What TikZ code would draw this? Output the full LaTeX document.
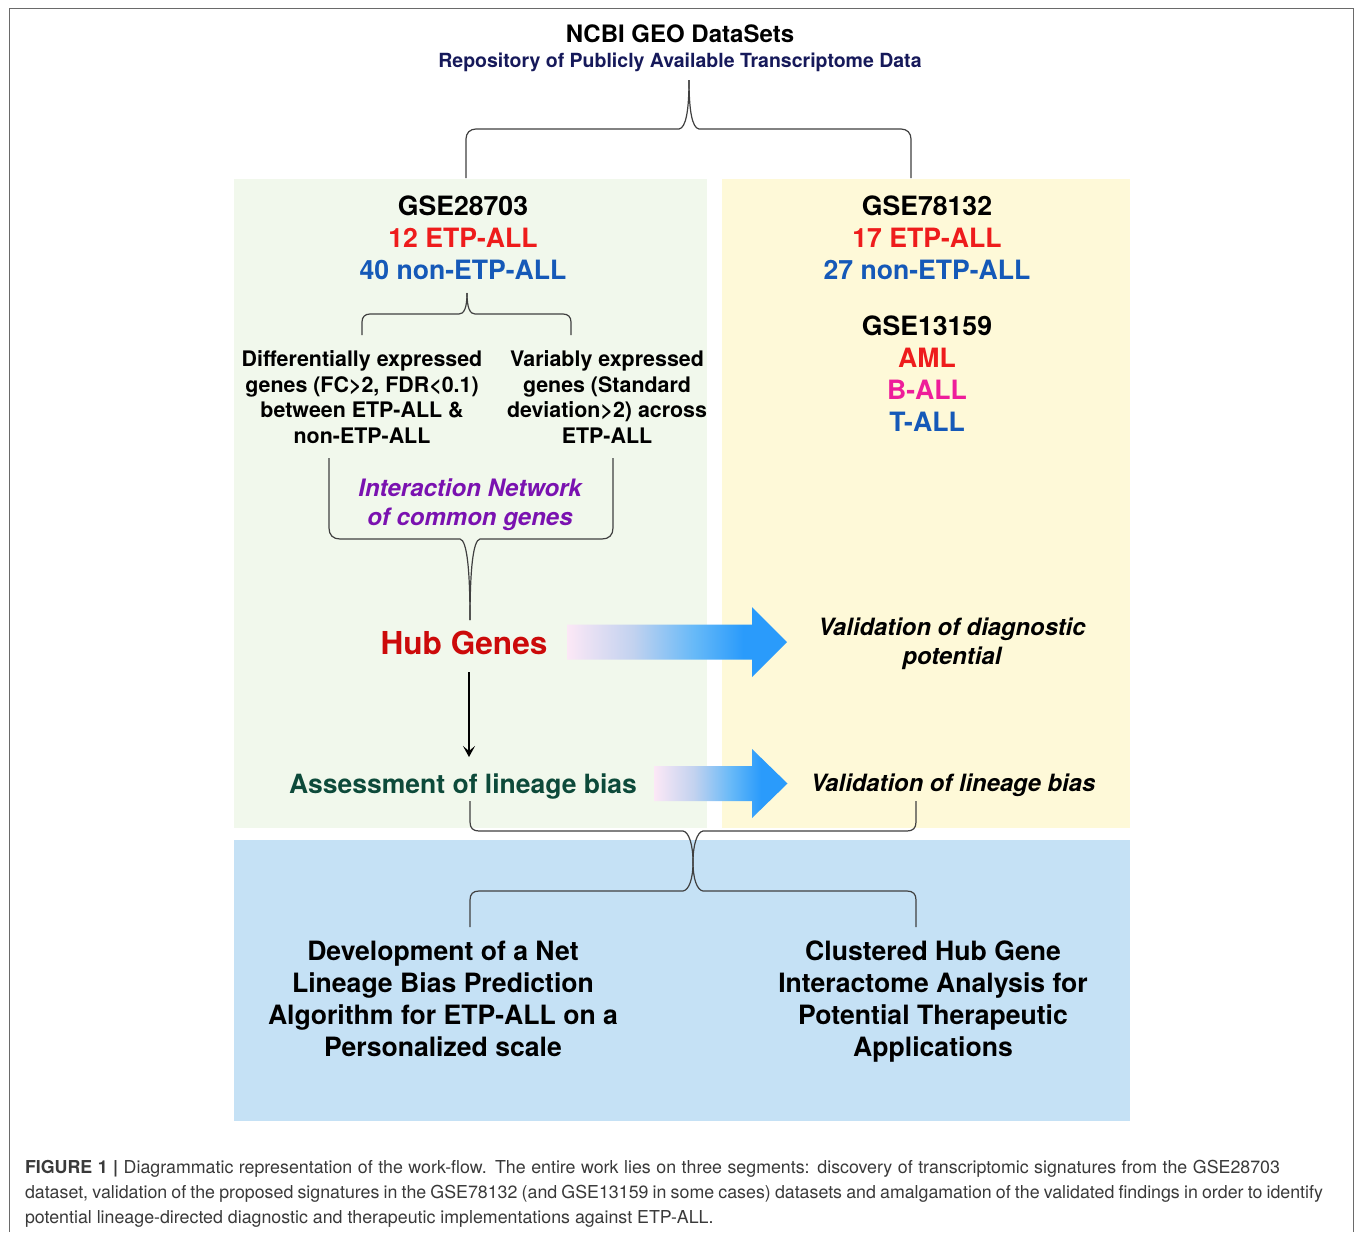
\documentclass[tikz,border=0pt]{standalone}
\usepackage{fontspec}
\setmainfont{TeX Gyre Heros}
\usetikzlibrary{arrows.meta}
\definecolor{panelgreen}{HTML}{F1F8EC}
\definecolor{panelyellow}{HTML}{FEF9D8}
\definecolor{panelblue}{HTML}{C5E1F5}
\definecolor{navy}{HTML}{16195A}
\definecolor{etpred}{HTML}{EE1C1C}
\definecolor{nonblue}{HTML}{1559B8}
\definecolor{bmag}{HTML}{EE1D9A}
\definecolor{intpurple}{HTML}{7A12B0}
\definecolor{hubred}{HTML}{CC0A0A}
\definecolor{lingreen}{HTML}{0D4A3A}
\definecolor{gpink}{HTML}{FCE8F6}
\definecolor{glav}{HTML}{C2D2EF}
\definecolor{glb}{HTML}{66B9F8}
\definecolor{gblue}{HTML}{2A9BFB}
\definecolor{framegray}{HTML}{6A6A6A}
\definecolor{capgray}{HTML}{3A3A3A}
\definecolor{bracegray}{HTML}{404040}
\pgfdeclarehorizontalshading{gradarrow}{100bp}{color(0bp)=(gpink); color(25bp)=(gpink); color(40bp)=(glav); color(54bp)=(glb); color(65bp)=(gblue); color(100bp)=(gblue)}
\begin{document}
\begin{tikzpicture}[x=1pt,y=-1pt,
  every node/.style={inner sep=0pt, outer sep=0pt},
  titlest/.style={font=\bfseries\fontsize{24}{28}\selectfont, anchor=base},
  repost/.style={font=\bfseries\fontsize{19.5}{23}\selectfont, text=navy, anchor=base},
  big/.style={font=\bfseries\fontsize{26.6}{32}\selectfont, anchor=base},
  sub/.style={font=\bfseries\fontsize{21.4}{25.7}\selectfont, align=center},
  inter/.style={font=\bfseries\itshape\fontsize{24}{29}\selectfont, text=intpurple, align=center},
  hubst/.style={font=\bfseries\fontsize{31.6}{36}\selectfont, text=hubred, anchor=base},
  assessst/.style={font=\bfseries\fontsize{26.5}{32}\selectfont, text=lingreen, anchor=base},
  valid/.style={font=\bfseries\itshape\fontsize{23.8}{29}\selectfont, align=center},
  bottomst/.style={font=\bfseries\fontsize{26.6}{32}\selectfont, align=center},
  capst/.style={font=\fontsize{17.8}{25}\selectfont, text=capgray, anchor=base west},
  brace/.style={draw=bracegray, line width=1.2pt},
  gradarrowst/.style={shading=gradarrow},
  hubarrow/.style={line width=2.3pt, -{Stealth[length=11pt,width=12pt,inset=5pt]}}
]
\useasboundingbox (0,0) rectangle (1355,1232);
\fill[white] (0,0) rectangle (1355,1232);
\draw[framegray, line width=1.5pt] (9.5,1232) -- (9.5,8.5) -- (1353.5,8.5) -- (1353.5,1232);

% panels
\fill[panelgreen] (234,179) rectangle (707,828);
\fill[panelyellow] (722,179) rectangle (1130,828);
\fill[panelblue] (234,840) rectangle (1130,1121);

% header
\node[titlest] (ncbi) at (680,42.6) {NCBI GEO DataSets};
\node[repost] (repo) at (680,67) {Repository of Publicly Available Transcriptome Data};

% top brace
\coordinate (tbT) at (689,80);
\coordinate (tbL) at (466,178);
\coordinate (tbR) at (911,178);
\draw[brace] (tbL) -- (466,139) .. controls (466,133) and (470,129) .. (476,129) -- (679,129) .. controls (686,128) and (689,110) .. (tbT);
\draw[brace] (tbT) .. controls (689,110) and (692,128) .. (699,129) -- (901,129) .. controls (907,129) and (911,133) .. (911,139) -- (tbR);

% left panel
\node[big] (gseA) at (463,215.5) {GSE28703};
\node[big, text=etpred] (etpA) at (463,247.5) {12 ETP-ALL};
\node[big, text=nonblue] (nonA) at (463,279.5) {40 non-ETP-ALL};

\coordinate (sbT) at (467,293);
\coordinate (sbL) at (362,335);
\coordinate (sbR) at (571,335);
\draw[brace] (sbL) -- (362,322) .. controls (362,317) and (365,314) .. (370,314) -- (459,314) .. controls (464,314) and (467,308) .. (sbT);
\draw[brace] (sbT) .. controls (467,308) and (470,314) .. (475,314) -- (563,314) .. controls (568,314) and (571,317) .. (571,322) -- (sbR);

\node[sub] (dex) at (362,397) {Differentially expressed\\genes (FC>2, FDR<0.1)\\between ETP-ALL \&\\non-ETP-ALL};
\node[sub] (vex) at (607,397) {Variably expressed\\genes (Standard\\deviation>2) across\\ETP-ALL};

\node[inter] (inet) at (470,505) {Interaction Network\\of common genes};

\coordinate (bbT) at (470,620);
\coordinate (bbL) at (329,458);
\coordinate (bbR) at (613,458);
\draw[brace] (bbL) -- (329,528) .. controls (329,535) and (333,539) .. (340,539) -- (460,539) .. controls (467,540) and (470,570) .. (bbT);
\draw[brace] (bbT) .. controls (470,570) and (473,540) .. (480,539) -- (602,539) .. controls (609,539) and (613,535) .. (613,528) -- (bbR);

\node[hubst] (hub) at (464,654.4) {Hub Genes};
\node[assessst] (assess) at (463,793.5) {Assessment of lineage bias};
\coordinate (hubout) at (469,672);
\coordinate (assessin) at (469,757);
\draw[hubarrow] (hubout) -- (assessin);

% gradient arrows
\shade[gradarrowst] (567,624.5) -- (752,624.5) -- (752,607) -- (787,642) -- (752,677) -- (752,659.5) -- (567,659.5) -- cycle;
\shade[gradarrowst] (654,766) -- (752,766) -- (752,749) -- (787.5,783.5) -- (752,818) -- (752,801) -- (654,801) -- cycle;

% right panel
\node[big] (gseB) at (927,215.5) {GSE78132};
\node[big, text=etpred] (etpB) at (927,247.5) {17 ETP-ALL};
\node[big, text=nonblue] (nonB) at (927,279.5) {27 non-ETP-ALL};
\node[big] (gseC) at (927,335.5) {GSE13159};
\node[big, text=etpred] (aml) at (927,367.5) {AML};
\node[big, text=bmag] (ball) at (927,399.5) {B-ALL};
\node[big, text=nonblue] (tall) at (927,431.5) {T-ALL};

\node[valid] (vdiag) at (952,644) {Validation of diagnostic\\potential};
\node[valid, anchor=base] (vlin) at (953,791.6) {Validation of lineage bias};

% bottom double brace
\coordinate (xT) at (693,862);
\coordinate (ubL) at (470,801);
\coordinate (ubR) at (916,801);
\coordinate (lbL) at (470,927);
\coordinate (lbR) at (916,927);
\draw[brace] (ubL) -- (470,822) .. controls (470,828) and (473,831) .. (479,831) -- (683,831) .. controls (689,832) and (693,845) .. (xT);
\draw[brace] (xT) .. controls (693,845) and (697,832) .. (703,831) -- (907,831) .. controls (913,831) and (916,828) .. (916,822) -- (ubR);
\draw[brace] (xT) .. controls (693,879) and (689,890) .. (683,891) -- (479,891) .. controls (473,891) and (470,894) .. (470,900) -- (lbL);
\draw[brace] (xT) .. controls (693,879) and (697,890) .. (703,891) -- (907,891) .. controls (913,891) and (916,894) .. (916,900) -- (lbR);

\node[bottomst] (netalg) at (443,999) {Development of a Net\\Lineage Bias Prediction\\Algorithm for ETP-ALL on a\\Personalized scale};
\node[bottomst] (clust) at (933,1002) {Clustered Hub Gene\\Interactome Analysis for\\Potential Therapeutic\\Applications};

% caption
\node[capst] (cap1) at (25,1173) {\makebox[1255pt][s]{\textbf{FIGURE 1 |} Diagrammatic representation of the work-flow. The entire work lies on three segments: discovery of transcriptomic signatures from the GSE28703}};
\node[capst] (cap2) at (25,1198) {\makebox[1298pt][s]{dataset, validation of the proposed signatures in the GSE78132 (and GSE13159 in some cases) datasets and amalgamation of the validated findings in order to identify}};
\node[capst] (cap3) at (25,1223) {potential lineage-directed diagnostic and therapeutic implementations against ETP-ALL.};
\end{tikzpicture}
\end{document}
